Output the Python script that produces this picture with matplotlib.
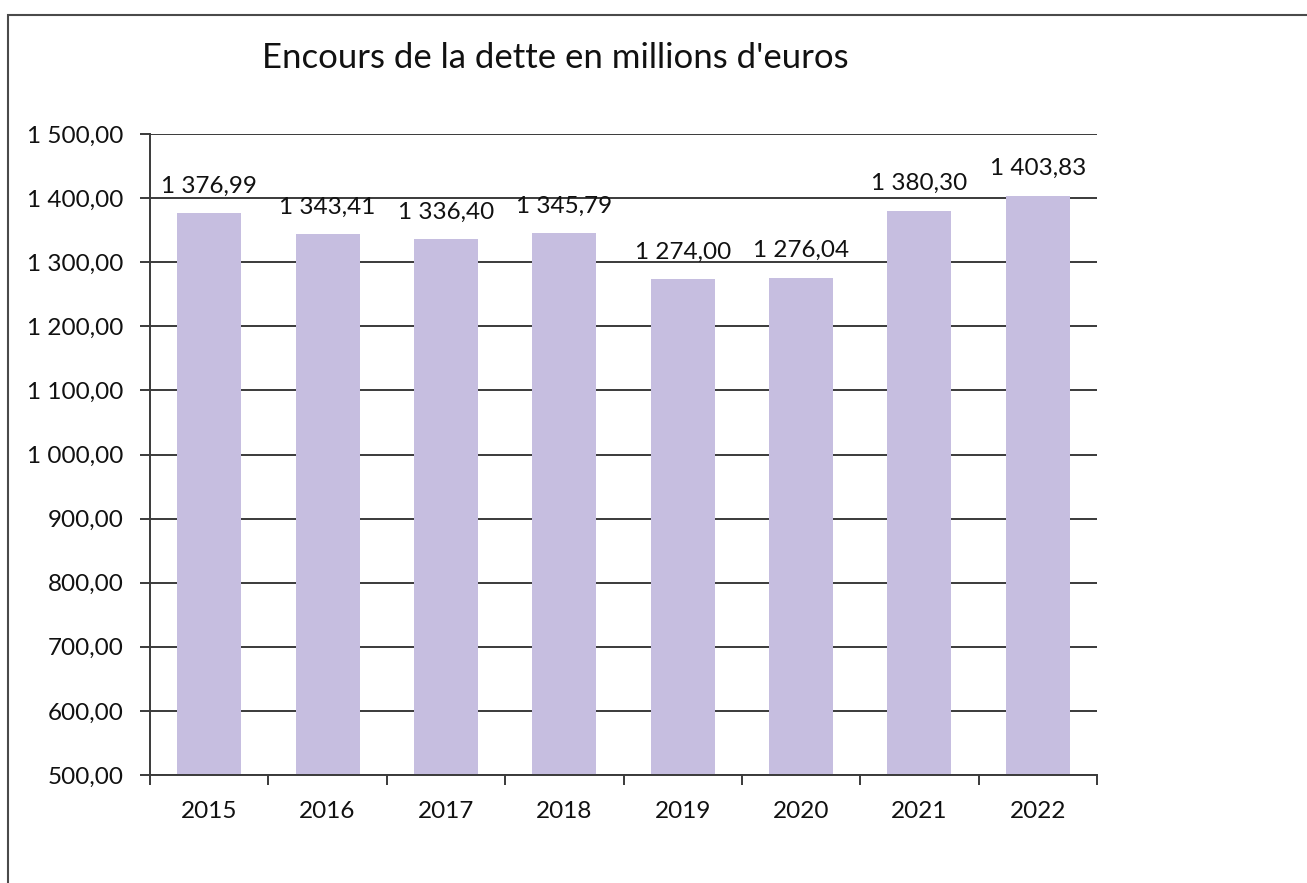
import matplotlib
matplotlib.use("Agg")
import matplotlib.pyplot as plt
from matplotlib.patches import Rectangle

years = ["2015", "2016", "2017", "2018", "2019", "2020", "2021", "2022"]
dette = [1376.99, 1343.41, 1336.40, 1345.79, 1274.00, 1276.04, 1380.30, 1403.83]
yticks = [500, 600, 700, 800, 900, 1000, 1100, 1200, 1300, 1400, 1500]
title = "Encours de la dette en millions d'euros"

def fr(v):
    return f"{v:,.2f}".replace(",", " ").replace(".", ",")

plt.rcParams['font.family'] = ['Lato', 'DejaVu Sans']

W, H = 1307, 883
fig = plt.figure(figsize=(W / 100, H / 100), dpi=100)
fig.patch.set_facecolor("white")

# outer chart border (extends beyond right/bottom edges)
fig.patches.append(Rectangle((8 / W, -0.05), 1.1, 1 - 15 / H + 0.05,
                             transform=fig.transFigure, fill=False,
                             edgecolor="#4a4a4a", linewidth=1.5, zorder=0))

ax = fig.add_axes([150 / W, 1 - 775 / H, (1097 - 150) / W, (775 - 134) / H])
x = list(range(len(years)))
bars = ax.bar(x, dette, width=0.54, color="#C6BEE0", zorder=2, bottom=0)

ax.set_ylim(500, 1500)
ax.set_xlim(-0.5, len(years) - 0.5)
ax.set_yticks(yticks)
ax.set_yticklabels([fr(v) for v in yticks], fontsize=17.5, color="#111111")
ax.yaxis.grid(True, color="#3a3a3a", linewidth=1.4, zorder=1)
ax.set_axisbelow(True)

ax.set_xticks(x)
ax.set_xticklabels(years, fontsize=17.5, color="#111111")
ax.tick_params(axis="x", which="major", length=0, pad=19)
ax.set_xticks([i - 0.5 for i in range(len(years) + 1)], minor=True)
ax.tick_params(axis="x", which="minor", length=7, width=1.4, color="#3a3a3a", direction="out")
ax.tick_params(axis="y", length=7, width=1.4, color="#3a3a3a", pad=12)

for s in ["top", "right"]:
    ax.spines[s].set_visible(False)
for s in ["left", "bottom"]:
    ax.spines[s].set_color("#3a3a3a")
    ax.spines[s].set_linewidth(1.4)

for xi, v in zip(x, dette):
    ax.annotate(fr(v), (xi, v), xytext=(0, 27), textcoords="offset pixels",
                ha="center", va="center", fontsize=17.5, color="#111111")

fig.text(555 / W, 1 - 58 / H, title, ha="center", va="center", fontsize=25, color="#111111")

fig.savefig("out.png", dpi=100)
